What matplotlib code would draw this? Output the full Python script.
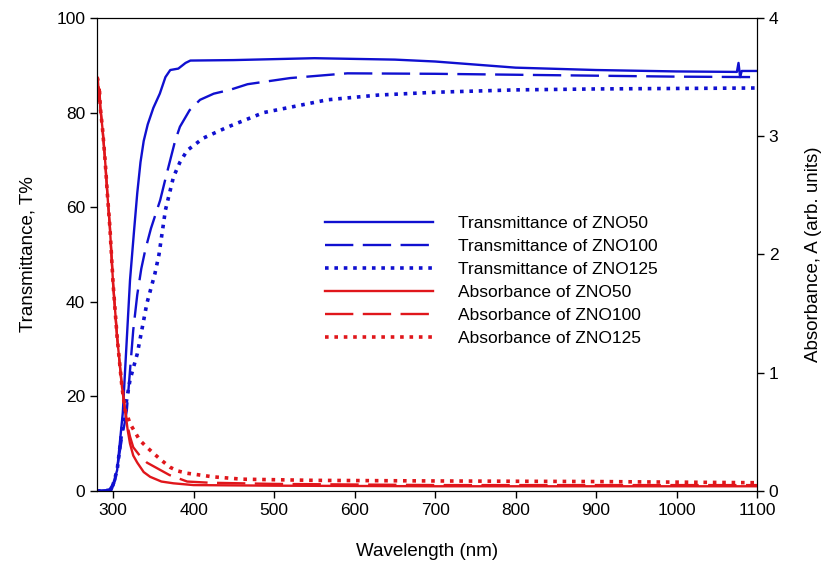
import matplotlib.pyplot as plt

plt.rcParams['font.family'] = ['Liberation Sans', 'DejaVu Sans']
plt.rcParams['font.size'] = 12.5

# transmittance (left axis)
wl_t50 = [280, 295, 300, 305, 312, 321, 326, 330, 334, 338, 343, 350, 358, 365, 371, 381, 390, 396,
          450, 550, 650, 700, 800, 900, 1000, 1075, 1077, 1079, 1081, 1100]
t50 = [0, 0.2, 1.5, 4.4, 16.5, 44.6, 55, 63, 69.5, 74, 77.5, 81, 84, 87.5, 89, 89.3, 90.5, 91,
       91.1, 91.5, 91.2, 90.8, 89.5, 89, 88.7, 88.6, 90.5, 87.5, 88.8, 88.8]

wl_t100 = [280, 298, 303, 308.6, 317, 325, 330, 335, 340, 347, 358.5, 365, 371, 377, 383, 395,
           408, 425, 445, 467, 520, 591, 700, 800, 900, 1000, 1100]
t100 = [0, 0.2, 2.5, 8.7, 17, 34, 41.5, 47, 51, 55.5, 61.5, 66, 70, 74, 77, 80.5,
        82.7, 84, 84.8, 86, 87.3, 88.3, 88.2, 88, 87.8, 87.6, 87.5]

wl_t125 = [280, 298, 305, 312, 321, 330, 342, 352, 357, 365, 375, 383, 392, 412, 443, 487, 566,
           629, 700, 800, 900, 1000, 1100]
t125 = [0, 0.2, 4.4, 14.4, 23.5, 29, 39.7, 46, 50, 59.4, 66.4, 69.5, 72, 74.6, 77, 80, 82.7,
        83.7, 84.3, 84.8, 85, 85.1, 85.2]

# absorbance (right axis)
wl_head = [280, 281, 282, 283, 284, 287, 290, 293, 296, 300, 305, 311, 315]
a_head = [3.5, 3.48, 3.3, 3.4, 3.25, 3.05, 2.8, 2.5, 2.23, 1.75, 1.30, 0.88, 0.68]

wl_a50 = wl_head + [318, 321, 325, 330, 338, 346, 360, 375, 400, 500, 700, 900, 1100]
a50 = a_head + [0.52, 0.40, 0.30, 0.24, 0.16, 0.12, 0.08, 0.065, 0.05, 0.045, 0.04, 0.04, 0.04]

wl_a100 = wl_head + [318, 321, 325, 333, 342, 358, 370, 380, 392, 420, 500, 700, 900, 1100]
a100 = a_head + [0.55, 0.46, 0.37, 0.30, 0.24, 0.18, 0.135, 0.11, 0.08, 0.07, 0.06, 0.05, 0.05, 0.05]

wl_a125 = wl_head + [318, 321, 327, 333, 342, 350, 360, 371, 380, 392, 424, 460, 550, 700, 900, 1100]
a125 = a_head + [0.63, 0.57, 0.5, 0.43, 0.37, 0.32, 0.26, 0.20, 0.17, 0.15, 0.12, 0.10, 0.09, 0.085, 0.08, 0.07]

blue = '#1010D0'
red = '#E0161B'
dash = (0, (12, 4))
dot = (0, (1, 1.6))

fig = plt.figure(figsize=(8.25, 5.71), dpi=100)
ax = fig.add_axes([0.1176, 0.1401, 0.80, 0.8284])
ax2 = ax.twinx()

h1, = ax.plot(wl_t50, t50, color=blue, lw=1.7, label='Transmittance of ZNO50')
h2, = ax.plot(wl_t100, t100, color=blue, lw=1.7, linestyle=dash, label='Transmittance of ZNO100')
h3, = ax.plot(wl_t125, t125, color=blue, lw=2.6, linestyle=dot, label='Transmittance of ZNO125')
h4, = ax2.plot(wl_a50, a50, color=red, lw=1.7, label='Absorbance of ZNO50')
h5, = ax2.plot(wl_a100, a100, color=red, lw=1.7, linestyle=dash, label='Absorbance of ZNO100')
h6, = ax2.plot(wl_a125, a125, color=red, lw=2.6, linestyle=dot, label='Absorbance of ZNO125')

ax.set_xlim(280, 1100)
ax.set_ylim(0, 100)
ax2.set_ylim(0, 4)
ax.set_xticks(range(300, 1101, 100))
ax.set_yticks(range(0, 101, 20))
ax2.set_yticks([0, 1, 2, 3, 4])
ax.tick_params(direction='out', length=5, width=1, top=False)
ax2.tick_params(direction='out', length=5, width=1)

ax.set_xlabel('Wavelength (nm)', fontsize=13.5, labelpad=18)
ax.set_ylabel('Transmittance, T%', fontsize=13.5, labelpad=14)
ax2.set_ylabel('Absorbance, A (arb. units)', fontsize=13.5, labelpad=19)

handles = [h1, h2, h3, h4, h5, h6]
fig.legend(handles, [h.get_label() for h in handles], loc='center left',
           bbox_to_anchor=(325 / 825, 1 - 281 / 571), frameon=False, fontsize=12.5,
           borderpad=0, borderaxespad=0, handlelength=6.2, handletextpad=1.45,
           labelspacing=0.45)

fig.savefig('out.png', dpi=100)
